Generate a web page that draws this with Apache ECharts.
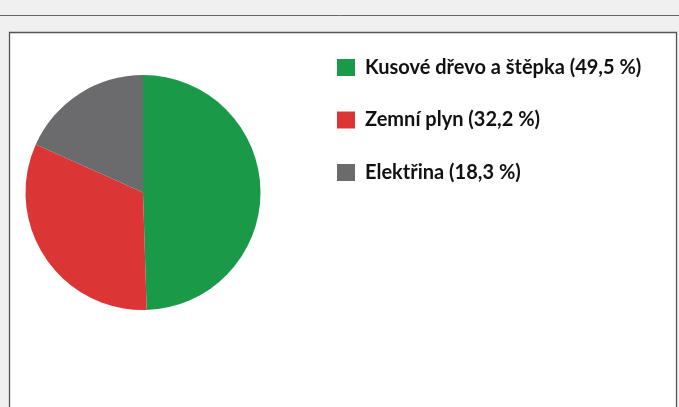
<!DOCTYPE html>
<html><head><meta charset="utf-8">
<script src="https://cdn.jsdelivr.net/npm/echarts@6/dist/echarts.min.js"></script>
<style>html,body{margin:0;padding:0;background:#f0f0f0;}#c{width:679px;height:407px;}</style>
</head><body><div id="c"></div>
<script>
const categories = ["Kusové dřevo a štěpka", "Zemní plyn", "Elektřina"];
const values = [49.5, 32.2, 18.3];
const colors = ["#1a9a48", "#dc3535", "#6b6b6d"];

const fmt = v => v.toFixed(1).replace('.', ',');
const labelOf = {};
categories.forEach((c, i) => { labelOf[c] = c + ' (' + fmt(values[i]) + ' %)'; });

const chart = echarts.init(document.getElementById('c'), null, {renderer: 'canvas'});
chart.setOption({
  animation: false,
  backgroundColor: '#f0f0f0',
  graphic: [
    {type: 'line', shape: {x1: 0, y1: 15.5, x2: 679, y2: 15.5}, style: {stroke: '#666', lineWidth: 1}, z: -10},
    {type: 'rect', shape: {x: 9.5, y: 32.5, width: 667, height: 400}, style: {fill: '#fff', stroke: '#555', lineWidth: 1.3}, z: -10}
  ],
  legend: {
    orient: 'vertical',
    left: 337, top: 57.5,
    padding: 0,
    itemWidth: 18, itemHeight: 17,
    itemGap: 32.5,
    icon: 'rect',
    selectedMode: false,
    formatter: n => labelOf[n],
    textStyle: {fontFamily: 'Lato', fontWeight: 'bold', fontSize: 20, color: '#111', lineHeight: 20, padding: [0, 0, 0, 5]},
    data: categories
  },
  series: [{
    type: 'pie',
    center: [143, 192.5],
    radius: 117.5,
    startAngle: 90,
    clockwise: true,
    silent: true,
    label: {show: false},
    labelLine: {show: false},
    itemStyle: {borderWidth: 0},
    data: categories.map((c, i) => ({name: c, value: values[i], itemStyle: {color: colors[i]}}))
  }]
});
</script></body></html>
